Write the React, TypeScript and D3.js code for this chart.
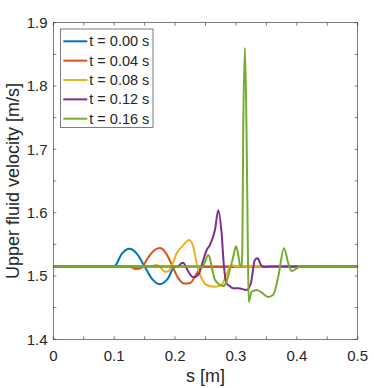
import React from "react";
import * as d3 from "d3";

const labels = ["t = 0.00 s", "t = 0.04 s", "t = 0.08 s", "t = 0.12 s", "t = 0.16 s"];
const colors = ["#0072BD", "#D95319", "#EDB120", "#7E2F8E", "#77AC30"];

// [s (m), upper fluid velocity (m/s)]
const t000: [number, number][] = [
  [0, 1.515], [0.1, 1.515], [0.1125, 1.535], [0.125, 1.543], [0.1375, 1.535],
  [0.15, 1.515], [0.1625, 1.495], [0.175, 1.487], [0.1875, 1.495], [0.2, 1.515],
  [0.5, 1.515],
];
const t004: [number, number][] = [
  [0, 1.515], [0.125, 1.515], [0.135, 1.511], [0.145, 1.513], [0.155, 1.528],
  [0.165, 1.54], [0.175, 1.544], [0.185, 1.536], [0.195, 1.517], [0.205, 1.497],
  [0.215, 1.488], [0.225, 1.489], [0.235, 1.503], [0.245, 1.514], [0.5, 1.515],
];
const t008: [number, number][] = [
  [0, 1.515], [0.16, 1.515], [0.17, 1.5174], [0.176, 1.514], [0.183, 1.5068],
  [0.188, 1.507], [0.194, 1.5147], [0.2026, 1.5358], [0.211, 1.546], [0.2234, 1.5568],
  [0.23, 1.546], [0.2355, 1.52], [0.2436, 1.4964], [0.252, 1.4858], [0.2655, 1.483],
  [0.2765, 1.486], [0.285, 1.504], [0.293, 1.5174], [0.301, 1.515], [0.5, 1.515],
];
const t012: [number, number][] = [
  [0, 1.515], [0.205, 1.515], [0.209, 1.519], [0.2135, 1.521], [0.2175, 1.515],
  [0.2217, 1.507], [0.23, 1.498], [0.238, 1.5016], [0.2463, 1.525], [0.2519, 1.541],
  [0.2573, 1.549], [0.2655, 1.5726], [0.271, 1.604], [0.2765, 1.567], [0.2803, 1.515],
  [0.2847, 1.488], [0.29, 1.484], [0.2956, 1.4806], [0.304, 1.4806], [0.3175, 1.478],
  [0.3245, 1.4885], [0.331, 1.525], [0.3356, 1.528], [0.342, 1.516], [0.348, 1.514],
  [0.356, 1.515], [0.5, 1.515],
];
const t016: [number, number][] = [
  [0, 1.515], [0.24, 1.515], [0.244, 1.513], [0.249, 1.522], [0.2545, 1.533],
  [0.2575, 1.527], [0.26, 1.515], [0.2655, 1.494], [0.2737, 1.486], [0.279, 1.484],
  [0.284, 1.49], [0.287, 1.499], [0.2956, 1.5305], [0.3, 1.547], [0.3035, 1.535],
  [0.3066, 1.5174], [0.3093, 1.5147], [0.3105, 1.54], [0.312, 1.73], [0.3148, 1.86],
  [0.3175, 1.72], [0.3195, 1.55], [0.321, 1.459], [0.3258, 1.475], [0.334, 1.478],
  [0.342, 1.474], [0.353, 1.467], [0.361, 1.47], [0.3695, 1.499], [0.379, 1.5437],
  [0.386, 1.52], [0.3915, 1.508], [0.4, 1.512], [0.405, 1.515], [0.5, 1.515],
];
const series = [t000, t004, t008, t012, t016];

const xTicks = [0, 0.1, 0.2, 0.3, 0.4, 0.5];
const yTicks = [1.4, 1.5, 1.6, 1.7, 1.8, 1.9];

const W = 374;
const H = 388;
const m = { left: 53.3, right: 357.7, top: 22.7, bottom: 339.3 };
const font = "'Liberation Sans', Arial, Helvetica, sans-serif";
const ink = "#262626";

export default function App() {
  const x = d3.scaleLinear().domain([0, 0.5]).range([m.left, m.right]);
  const y = d3.scaleLinear().domain([1.4, 1.9]).range([m.bottom, m.top]);
  const line = d3
    .line<[number, number]>()
    .x((d) => x(d[0]))
    .y((d) => y(d[1]))
    .curve(d3.curveMonotoneX);

  const xMinor = x.ticks(10);
  const yMinor = y.ticks(10);
  const tk = 3;

  return (
    <svg
      width={W}
      height={H}
      style={{ position: "absolute", left: 0, top: 0, background: "#fff" }}
      fontFamily={font}
    >
      <defs>
        <clipPath id="plot">
          <rect x={m.left} y={m.top} width={m.right - m.left} height={m.bottom - m.top} />
        </clipPath>
      </defs>

      {/* lines */}
      <g clipPath="url(#plot)">
        {series.map((s, i) => (
          <path key={i} d={line(s) || ""} fill="none" stroke={colors[i]} strokeWidth={2} />
        ))}
      </g>

      {/* box + ticks */}
      <rect
        x={m.left}
        y={m.top}
        width={m.right - m.left}
        height={m.bottom - m.top}
        fill="none"
        stroke={ink}
        strokeWidth={0.6}
      />
      {xMinor.map((t) => (
        <g key={"x" + t} stroke={ink} strokeWidth={0.6}>
          <line x1={x(t)} x2={x(t)} y1={m.bottom} y2={m.bottom - tk} />
          <line x1={x(t)} x2={x(t)} y1={m.top} y2={m.top + tk} />
        </g>
      ))}
      {yMinor.map((t) => (
        <g key={"y" + t} stroke={ink} strokeWidth={0.6}>
          <line x1={m.left} x2={m.left + tk} y1={y(t)} y2={y(t)} />
          <line x1={m.right} x2={m.right - tk} y1={y(t)} y2={y(t)} />
        </g>
      ))}

      {/* tick labels */}
      {xTicks.map((t) => (
        <text key={"xl" + t} x={x(t)} y={361} textAnchor="middle" fontSize={15} fill={ink}>
          {d3.format("")(t)}
        </text>
      ))}
      {yTicks.map((t) => (
        <text key={"yl" + t} x={47.5} y={y(t) + 5.4} textAnchor="end" fontSize={15} fill={ink}>
          {t.toFixed(1)}
        </text>
      ))}

      {/* axis labels */}
      <text x={(m.left + m.right) / 2} y={382} textAnchor="middle" fontSize={18} fill={ink}>
        s [m]
      </text>
      <text
        transform={`translate(18.5, ${(m.top + m.bottom) / 2}) rotate(-90)`}
        textAnchor="middle"
        fontSize={18}
        fill={ink}
      >
        Upper fluid velocity [m/s]
      </text>

      {/* legend */}
      <rect x={60.5} y={29} width={92.5} height={98.5} fill="#fff" stroke={ink} strokeWidth={0.6} />
      {labels.map((l, i) => {
        const ly = 41.3 + i * 19.35;
        return (
          <g key={l}>
            <line x1={63.3} x2={87.3} y1={ly} y2={ly} stroke={colors[i]} strokeWidth={2} />
            <text x={89.3} y={ly + 5} fontSize={14.5} fill={ink}>
              {l}
            </text>
          </g>
        );
      })}
    </svg>
  );
}
